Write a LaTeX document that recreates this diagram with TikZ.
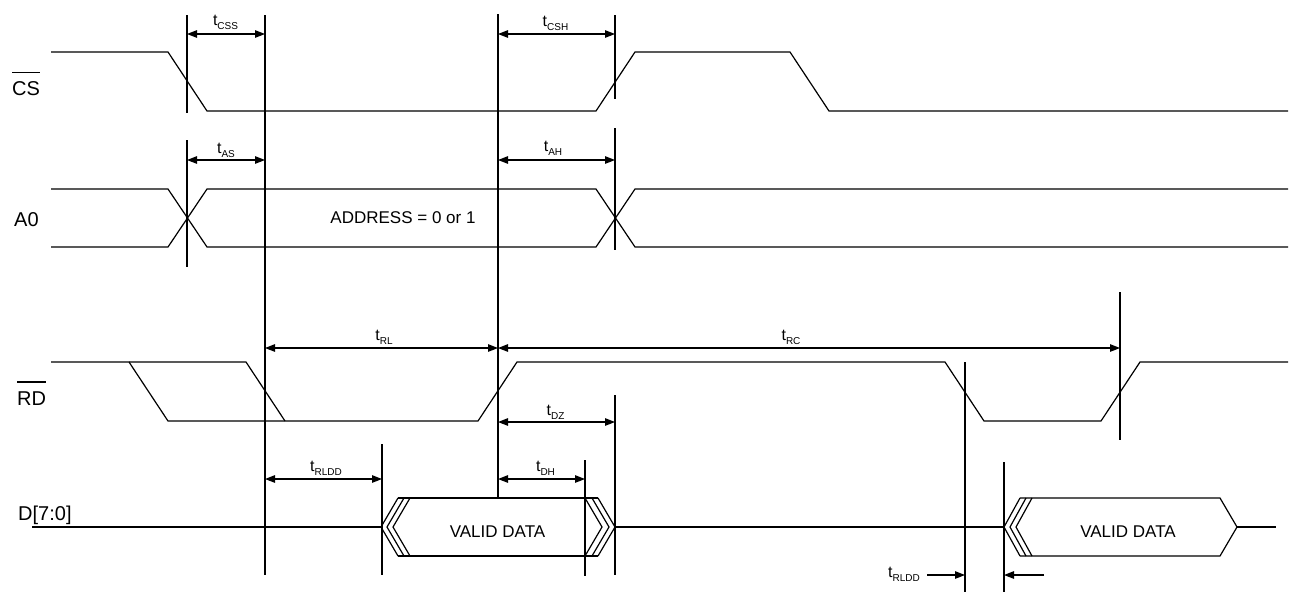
\documentclass[tikz,border=0pt]{standalone}
\usepackage{fontspec}
\setmainfont{Liberation Sans}
\usetikzlibrary{arrows.meta}
\newcommand{\tsub}[1]{t\raisebox{-4pt}{\fontsize{10}{10}\selectfont #1}}
\begin{document}
\begin{tikzpicture}[x=1pt,y=-1pt,
  sig/.style={line width=1.2pt, line join=miter},
  vline/.style={line width=1.2pt},
  dimline/.style={line width=1.2pt, {Triangle[length=10pt,width=7.5pt]}-{Triangle[length=10pt,width=7.5pt]}},
  oneway/.style={line width=1.2pt, -{Triangle[length=10pt,width=7.5pt]}},
  tlab/.style={anchor=base, inner sep=0pt, font=\fontsize{16}{16}\selectfont},
  siglab/.style={anchor=base west, inner sep=0pt, font=\fontsize{20}{20}\selectfont},
  txt/.style={anchor=base, inner sep=0pt, font=\fontsize{17}{17}\selectfont}]
\useasboundingbox (0,0) rectangle (1289,592);

% signal names
\node[siglab] (cs) at (12,95) {CS};
\draw[vline] ([yshift=8.5pt]cs.north west) -- ([yshift=8.5pt]cs.north east);
\node[siglab] (a0) at (14,226) {A0};
\node[siglab] (rd) at (17,405) {RD};
\draw[vline] ([yshift=9pt]rd.north west) -- ([yshift=9pt]rd.north east);
\node[siglab] (d) at (18,520) {D[7:0]};

% CS
\draw[sig] (51,52) -- (168,52) -- (207,111) -- (596,111) -- (635,52) -- (790,52) -- (829,111) -- (1288,111);
% A0
\draw[sig] (51,189) -- (168,189) -- (207,247) -- (596,247) -- (635,189) -- (1288,189);
\draw[sig] (51,247) -- (168,247) -- (207,189) -- (596,189) -- (635,247) -- (1288,247);
\node[txt] (addr) at (403,223) {ADDRESS = 0 or 1};
% RD
\draw[sig] (51,362) -- (129,362) -- (168,421) -- (478,421) -- (517,362) -- (945,362) -- (984,421) -- (1101,421) -- (1140,362) -- (1288,362);
\draw[sig] (129,362) -- (246,362) -- (285,421);
% D[7:0]
\draw[sig] (32,527) -- (381,527);
\draw[sig] (398,498) -- (381,527) -- (398,556);
\draw[sig] (404,498) -- (387,527) -- (404,556);
\draw[sig] (410,498) -- (393,527) -- (410,556);
\draw[sig] (398,498) -- (598,498);
\draw[sig] (398,556) -- (598,556);
\draw[sig] (585,498) -- (602,527) -- (585,556);
\draw[sig] (592,498) -- (609,527) -- (592,556);
\draw[sig] (598,498) -- (615,527) -- (598,556);
\draw[sig] (615,527) -- (1004,527);
\draw[sig] (1020,498) -- (1004,527) -- (1020,556);
\draw[sig] (1026,498) -- (1010,527) -- (1026,556);
\draw[sig] (1032,498) -- (1016,527) -- (1032,556);
\draw[sig] (1020,498) -- (1220,498) -- (1237,527) -- (1220,556) -- (1020,556);
\draw[sig] (1237,527) -- (1276,527);
\node[txt] (vd1) at (497.5,537) {VALID DATA};
\node[txt] (vd2) at (1128,537) {VALID DATA};

% vertical reference lines
\draw[vline] (187,15) -- (187,113);
\draw[vline] (187,140) -- (187,267);
\draw[vline] (265,15) -- (265,575);
\draw[vline] (498,14) -- (498,498);
\draw[line width=2.2pt] (498,92) -- (498,233);
\draw[vline] (615,15) -- (615,99);
\draw[vline] (615,128) -- (615,250);
\draw[vline] (615,395) -- (615,575);
\draw[vline] (382,444) -- (382,575);
\draw[vline] (585,460) -- (585,576);
\draw[vline] (1120,292) -- (1120,440);
\draw[vline] (965,362) -- (965,592);
\draw[vline] (1004,462) -- (1004,592);

% dimensions
\draw[dimline] (187,34) -- (265,34);
\node[tlab] (tcss) at (225.5,25) {\tsub{CSS}};
\draw[dimline] (187,160) -- (265,160);
\node[tlab] (tas) at (226,153) {\tsub{AS}};
\draw[dimline] (498,34) -- (615,34);
\node[tlab] (tcsh) at (555.5,26) {\tsub{CSH}};
\draw[dimline] (498,160) -- (615,160);
\node[tlab] (tah) at (553,151.5) {\tsub{AH}};
\draw[dimline] (265,348) -- (498,348);
\node[tlab] (trl) at (384,340) {\tsub{RL}};
\draw[dimline] (498,348) -- (1120,348);
\node[tlab] (trc) at (791,340) {\tsub{RC}};
\draw[dimline] (498,422) -- (615,422);
\node[tlab] (tdz) at (555.5,415) {\tsub{DZ}};
\draw[dimline] (265,479) -- (382,479);
\node[tlab] (trldd) at (326,471) {\tsub{RLDD}};
\draw[dimline] (498,479) -- (585,479);
\node[tlab] (tdh) at (545.5,471) {\tsub{DH}};
\draw[oneway] (927,575) -- (965,575);
\draw[oneway] (1044,575) -- (1004,575);
\node[tlab] (trldd2) at (904,577) {\tsub{RLDD}};
\end{tikzpicture}
\end{document}
